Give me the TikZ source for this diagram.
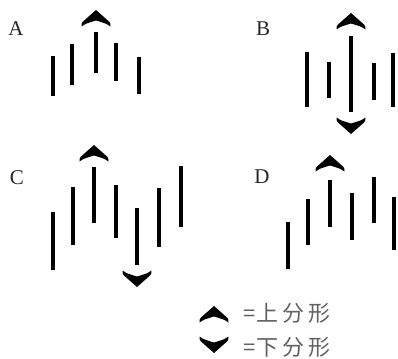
\documentclass[tikz,border=0pt]{standalone}
\usepackage{fontspec}
\setmainfont{Liberation Serif}
\newfontfamily\cjk{Noto Sans CJK SC}
\newcommand\chsp{\kern4pt}
\begin{document}
\begin{tikzpicture}[x=1pt,y=-1pt,
  bar/.style={line width=3.8pt,line cap=butt,black},
  lbl/.style={font=\fontsize{21}{21}\selectfont,text=black!85,inner sep=0pt},
  leg/.style={font=\cjk\fontsize{22}{22}\selectfont,text=black!62,inner sep=0pt,anchor=west},
  pics/upfrac/.style={code={
    \fill[black] (0,0) -- (13,11.5) .. controls (14.3,12.8) .. (14.5,16.5)
      .. controls (10,13.5) .. (0,10.5)
      .. controls (-10,13.5) .. (-14.5,16.5)
      .. controls (-14.3,12.8) .. (-13,11.5) -- cycle;}},
  pics/downfrac/.style={code={
    \fill[black] (0,0) -- (13,-11.5) .. controls (14.3,-12.8) .. (14.5,-16.5)
      .. controls (10,-13.5) .. (0,-10.5)
      .. controls (-10,-13.5) .. (-14.5,-16.5)
      .. controls (-14.3,-12.8) .. (-13,-11.5) -- cycle;}}
]
\useasboundingbox (0,0) rectangle (398,358);
% Panel A
\node[lbl] (la) at (16,29) {A};
\draw[bar] (53,56) -- (53,96);
\draw[bar] (72,44) -- (72,85);
\draw[bar] (96,32) -- (96,73);
\draw[bar] (116,43) -- (116,81);
\draw[bar] (139,57) -- (139,94);
\pic at (96,10) {upfrac};
% Panel B
\node[lbl] (lb) at (263,29) {B};
\draw[bar] (307,52) -- (307,107);
\draw[bar] (329,62) -- (329,98);
\draw[bar] (351,36) -- (351,112);
\draw[bar] (374,63) -- (374,100);
\draw[bar] (393,53) -- (393,107);
\pic at (351,13) {upfrac};
\pic at (351,134) {downfrac};
% Panel C
\node[lbl] (lc) at (17,178) {C};
\draw[bar] (53,212) -- (53,270);
\draw[bar] (73,187) -- (73,245);
\draw[bar] (94,167) -- (94,223);
\draw[bar] (116,185) -- (116,238);
\draw[bar] (137,208) -- (137,265);
\draw[bar] (159,188) -- (159,247);
\draw[bar] (181,166) -- (181,227);
\pic at (94,145) {upfrac};
\pic at (137,287) {downfrac};
% Panel D
\node[lbl] (ld) at (262,177) {D};
\draw[bar] (288,222) -- (288,269);
\draw[bar] (308,199) -- (308,245);
\draw[bar] (330,180) -- (330,227);
\draw[bar] (352,193) -- (352,240);
\draw[bar] (374,177) -- (374,223);
\draw[bar] (394,197) -- (394,250);
\pic at (330,155) {upfrac};
% Legend
\pic at (214,306) {upfrac};
\pic at (214,353) {downfrac};
\node[leg] (t1) at (243,313) {=\kern1pt 上\chsp 分\chsp 形};
\node[leg] (t2) at (243,347) {=\kern1pt 下\chsp 分\chsp 形};
\end{tikzpicture}
\end{document}
